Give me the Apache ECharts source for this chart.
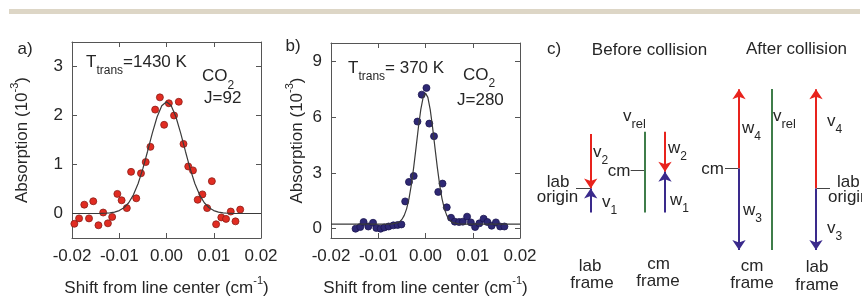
<!DOCTYPE html>
<html><head><meta charset="utf-8">
<script src="https://cdn.jsdelivr.net/npm/echarts@6.0.0/dist/echarts.min.js"></script>
<style>html,body{margin:0;padding:0;background:#ffffff;}#chart{width:862px;height:296px;}</style>
</head><body><div id="chart"></div>
<script>
// ---------------- data ----------------
const xTicks = [-0.02, -0.01, 0, 0.01, 0.02];
const aYTicks = [0, 1, 2, 3];
const bYTicks = [0, 3, 6, 9];

// panel a: CO2 J=92, Ttrans=1430 K
const aShift = [-0.0195,-0.0185,-0.0174,-0.0164,-0.0155,-0.0144,-0.0134,-0.0124,-0.0115,-0.0104,-0.0095,-0.0084,-0.0075,-0.0064,-0.0054,-0.0044,-0.0034,-0.0024,-0.0014,-0.0005,0.0005,0.0016,0.0026,0.0036,0.0046,0.0056,0.0066,0.0076,0.0086,0.0096,0.0105,0.0116,0.0126,0.0136,0.0146,0.0156];
const aAbs = [-0.21,-0.10,0.18,-0.10,0.25,-0.24,0.02,-0.20,-0.07,0.40,0.27,0.11,0.85,0.31,0.82,1.05,1.36,2.12,2.37,1.81,2.25,2.00,2.28,1.42,0.96,0.88,0.28,0.39,0.11,0.66,-0.22,-0.08,-0.11,0.04,-0.16,0.08];
const aFitShift = [-0.02,-0.015,-0.014,-0.013,-0.012,-0.011,-0.010,-0.009,-0.008,-0.007,-0.006,-0.005,-0.004,-0.003,-0.002,-0.001,0,0.001,0.002,0.003,0.004,0.005,0.006,0.007,0.008,0.009,0.010,0.011,0.012,0.013,0.014,0.015,0.02];
const aFitAbs = [0,0,0.002,0.005,0.012,0.027,0.059,0.118,0.220,0.381,0.612,0.915,1.271,1.641,1.970,2.198,2.280,2.198,1.970,1.641,1.271,0.915,0.612,0.381,0.220,0.118,0.059,0.027,0.012,0.005,0.002,0,0];

// panel b: CO2 J=280, Ttrans=370 K
const bShift = [-0.0148,-0.0138,-0.0131,-0.0121,-0.0111,-0.0104,-0.0095,-0.0087,-0.0078,-0.0068,-0.0059,-0.0051,-0.0043,-0.0035,-0.0025,-0.0017,-0.0008,0.0002,0.0008,0.0018,0.0027,0.0036,0.0045,0.0054,0.0062,0.0071,0.0079,0.0088,0.0096,0.0105,0.0114,0.0123,0.0131,0.0140,0.0149,0.0158,0.0167];
const bAbs = [0,0.09,0.36,0.12,0.32,0.04,0,0.07,0.12,0.18,0.20,0.23,1.47,2.52,2.84,5.77,7.22,7.58,5.66,4.98,1.98,2.43,1.15,0.59,0.38,0.36,0.38,0.65,0.34,0.09,0.29,0.54,0.36,0.16,0.34,0.12,0.12];
const bFitShift = [-0.02,-0.008,-0.007,-0.006,-0.0055,-0.005,-0.0045,-0.004,-0.0035,-0.003,-0.0025,-0.002,-0.0015,-0.001,-0.0005,0,0.0005,0.001,0.0015,0.002,0.0025,0.003,0.0035,0.004,0.0045,0.005,0.0055,0.006,0.007,0.008,0.02];
const bFitAbs = [0.25,0.25,0.26,0.31,0.37,0.50,0.72,1.07,1.61,2.36,3.30,4.37,5.46,6.41,7.07,7.30,7.07,6.41,5.46,4.37,3.30,2.36,1.61,1.07,0.72,0.50,0.37,0.31,0.26,0.25,0.25];

// panel c: velocity diagram (arbitrary units, lab origin = 0)
const vecNames = ['v2','v1','w2','w1','w4','w3','v4','v3'];
const vecParticle = [2,1,2,1,4,3,4,3];
const vecFrame = [0,0,1,1,2,2,3,3];
const vecTail = [13.6,-6.0,14.2,-6.0,5.0,5.0,0,0];
const vecHead = [0,0,4.2,4.2,24.8,-15.4,24.8,-15.4];
const vrelEnds = [[14.2,-6.0],[24.9,-15.4]];
const cmVelocity = [4.45, 5.05];
const frameNames = ['lab', 'cm', 'cm', 'lab'];

// ---------------- layout / style ----------------
const FONT = '"Liberation Sans", Arial, sans-serif';
const TXT = '#262626';
const AX = '#555555';
const frameCols = [5.07, 12.5, 19.9, 27.6];  // diagram x (1 unit = 10 px)
const vrelCols = [10.5, 23.2];
const RED = '#e8231d', BLUE = '#3a2a8c', GREEN = '#3f7d4a';

function pairs(xs, ys) { return xs.map((x, i) => [x, ys[i]]); }

const nameRich = {
  m: { fontSize: 17, fontFamily: FONT, color: TXT, lineHeight: 26 },
  p: { fontSize: 11, fontFamily: FONT, color: TXT, lineHeight: 12, verticalAlign: 'top' }
};

function xAx(grid, pos, showLab, nameGap) {
  return {
    type: 'value', gridIndex: grid, position: pos, min: -0.02, max: 0.02,
    axisLine: { show: true, onZero: false, lineStyle: { color: AX, width: 1 } },
    axisTick: { show: true, inside: true, length: 5, customValues: xTicks, lineStyle: { color: AX } },
    axisLabel: { show: showLab, customValues: xTicks, formatter: v => v.toFixed(2), fontFamily: FONT, fontSize: 17, color: TXT, margin: 10 },
    splitLine: { show: false },
    name: showLab ? '{m|Shift from line center (cm}{p|-1}{m|)}' : '',
    nameLocation: 'middle', nameGap: nameGap, nameMoveOverlap: false,
    nameTextStyle: { rich: nameRich }
  };
}
function yAx(grid, pos, showLab, ticks, min, max, nameGap) {
  return {
    type: 'value', gridIndex: grid, position: pos, min: min, max: max,
    axisLine: { show: true, onZero: false, lineStyle: { color: AX, width: 1 } },
    axisTick: { show: true, inside: true, length: 5, customValues: ticks, lineStyle: { color: AX } },
    axisLabel: { show: showLab, customValues: ticks, formatter: v => String(v), fontFamily: FONT, fontSize: 17, color: TXT, margin: 9 },
    splitLine: { show: false },
    name: showLab ? '{m|Absorption (10}{p|-3}{m|)}' : '',
    nameLocation: 'middle', nameRotate: 90, nameGap: nameGap, nameMoveOverlap: false,
    nameTextStyle: { rich: nameRich }
  };
}

function txt(x, y, s, align, size) {
  return { type: 'text', x: x, y: y, z: 100, silent: true,
    style: { text: s, font: (size || 17) + 'px ' + FONT, fill: TXT, textAlign: align || 'center', textVerticalAlign: 'middle' } };
}
// main text + subscript(s): parts = [[text, isSub], ...]
function rich(x, y, parts, drop, subSize, align) {
  const size = 17, H = 30;
  const shift = drop + 0.33 * (size - subSize);
  const h = Math.max(1, H - 2 * shift);
  const text = parts.map(p => (p[1] ? '{s|' : '{m|') + p[0] + '}').join('');
  return { type: 'text', x: x, y: y, z: 100, silent: true,
    style: { text: text, fill: TXT, textAlign: align || 'left', textVerticalAlign: 'middle',
      rich: {
        m: { font: size + 'px ' + FONT, fill: TXT, lineHeight: H },
        s: { font: subSize + 'px ' + FONT, fill: TXT, lineHeight: h, verticalAlign: 'bottom' }
      } } };
}

// ---------------- diagram series ----------------
function vecLine(i) {
  const x = frameCols[vecFrame[i]];
  return { coords: [[x, vecTail[i]], [x, vecHead[i]]] };
}
const redIdx = vecNames.map((n, i) => i).filter(i => vecParticle[i] % 2 === 0);
const blueIdx = vecNames.map((n, i) => i).filter(i => vecParticle[i] % 2 === 1);

const tickData = [
  { coords: [[frameCols[0] - 1.47, 0], [frameCols[0], 0]] },
  { coords: [[frameCols[3] + 0.1, 0], [frameCols[3] + 1.4, 0]] },
  { coords: [[vrelCols[0] - 1.43, cmVelocity[0]], [vrelCols[0] - 0.1, cmVelocity[0]]] },
  { coords: [[frameCols[2] - 1.4, cmVelocity[1]], [frameCols[2] - 0.1, cmVelocity[1]]] }
];

const diagBase = { type: 'lines', coordinateSystem: 'cartesian2d', xAxisIndex: 4, yAxisIndex: 4, polyline: false, silent: true, animation: false };

const option = {
  animation: false,
  backgroundColor: '#ffffff',
  grid: [
    { left: 72, top: 42, width: 189, height: 196, outerBoundsMode: 'none' },
    { left: 331, top: 43, width: 189, height: 195, outerBoundsMode: 'none' },
    { left: 540, top: 30, width: 322, height: 266, outerBoundsMode: 'none' }
  ],
  xAxis: [
    xAx(0, 'bottom', true, 37), xAx(0, 'top', false, 0),
    xAx(1, 'bottom', true, 37), xAx(1, 'top', false, 0),
    { type: 'value', gridIndex: 2, min: 0, max: 32.2, show: false }
  ],
  yAxis: [
    yAx(0, 'left', true, aYTicks, -0.5, 3.5, 37), yAx(0, 'right', false, aYTicks, -0.5, 3.5, 0),
    yAx(1, 'left', true, bYTicks, -0.5, 10, 21), yAx(1, 'right', false, bYTicks, -0.5, 10, 0),
    { type: 'value', gridIndex: 2, min: -26.875, max: 39.625, show: false }
  ],
  series: [
    { type: 'scatter', xAxisIndex: 0, yAxisIndex: 0, data: pairs(aShift, aAbs), symbolSize: 7, z: 2,
      itemStyle: { color: '#e12c22', borderColor: '#8a1d17', borderWidth: 0.8, opacity: 1 } },
    { type: 'line', xAxisIndex: 0, yAxisIndex: 0, data: pairs(aFitShift, aFitAbs), showSymbol: false, symbol: 'none', z: 3,
      lineStyle: { color: '#3a3a3a', width: 1.2 } },
    { type: 'scatter', xAxisIndex: 2, yAxisIndex: 2, data: pairs(bShift, bAbs), symbolSize: 7, z: 2,
      itemStyle: { color: '#2e2874', borderColor: '#1c1650', borderWidth: 0.8, opacity: 1 } },
    { type: 'line', xAxisIndex: 2, yAxisIndex: 2, data: pairs(bFitShift, bFitAbs), showSymbol: false, symbol: 'none', z: 3,
      lineStyle: { color: '#3a3a3a', width: 1.2 } },
    Object.assign({}, diagBase, { data: vrelCols.map((x, i) => ({ coords: [[x, vrelEnds[i][0]], [x, vrelEnds[i][1]]] })),
      symbol: ['none', 'none'], lineStyle: { color: GREEN, width: 2, opacity: 1 } }),
    Object.assign({}, diagBase, { data: tickData, symbol: ['none', 'none'], lineStyle: { color: '#444', width: 1, opacity: 1 } }),
    Object.assign({}, diagBase, { data: redIdx.map(vecLine), symbol: ['none', 'arrow'], symbolSize: 10,
      lineStyle: { color: RED, width: 2, opacity: 1 }, itemStyle: { color: RED } }),
    Object.assign({}, diagBase, { data: blueIdx.map(vecLine), symbol: ['none', 'arrow'], symbolSize: 10,
      lineStyle: { color: BLUE, width: 2, opacity: 1 }, itemStyle: { color: BLUE } })
  ],
  graphic: [
    { type: 'rect', shape: { x: 9, y: 9, width: 851, height: 5 }, style: { fill: '#ddd6c6' }, silent: true },
    txt(25, 49, 'a)'), txt(293, 46, 'b)'), txt(547, 49, 'c)', 'left'),
    rich(86, 62, [['T', 0], ['trans', 1], ['=1430 K', 0]], 7, 12),
    rich(202, 76.5, [['CO', 0], ['2', 1]], 4, 12),
    txt(204, 98.5, 'J=92', 'left'),
    rich(348, 68, [['T', 0], ['trans', 1], ['= 370 K', 0]], 7, 12),
    rich(463, 75, [['CO', 0], ['2', 1]], 4, 12),
    txt(457, 100, 'J=280', 'left'),
    txt(649.5, 50, 'Before collision'), txt(796.5, 49, 'After collision'),
    rich(593, 152, [['v', 0], ['2', 1]], 5, 12),
    rich(602, 202, [['v', 0], ['1', 1]], 5, 12),
    txt(558, 182, 'lab'), txt(557.5, 197, 'origin'),
    txt(619, 171, 'cm'),
    rich(623, 116, [['v', 0], ['rel', 1]], 3, 13),
    rich(668, 148, [['w', 0], ['2', 1]], 5, 12),
    rich(670, 200, [['w', 0], ['1', 1]], 5, 12),
    txt(712.5, 169, 'cm'),
    rich(742, 128, [['w', 0], ['4', 1]], 5, 12),
    rich(743, 210, [['w', 0], ['3', 1]], 5, 12),
    rich(773, 116, [['v', 0], ['rel', 1]], 3, 13),
    rich(827, 121, [['v', 0], ['4', 1]], 5, 12),
    rich(827, 228, [['v', 0], ['3', 1]], 5, 12),
    txt(837, 182, 'lab', 'left'), txt(828, 197, 'origin', 'left'),
    txt(590, 266, frameNames[0]), txt(592, 283.5, 'frame'),
    txt(658.5, 264, frameNames[1]), txt(658, 281.5, 'frame'),
    txt(752, 266, frameNames[2]), txt(752, 283.5, 'frame'),
    txt(817, 267, frameNames[3]), txt(817, 285, 'frame')
  ]
};

const chart = echarts.init(document.getElementById('chart'), null, { renderer: 'canvas' });
chart.setOption(option);
</script>
</body></html>
